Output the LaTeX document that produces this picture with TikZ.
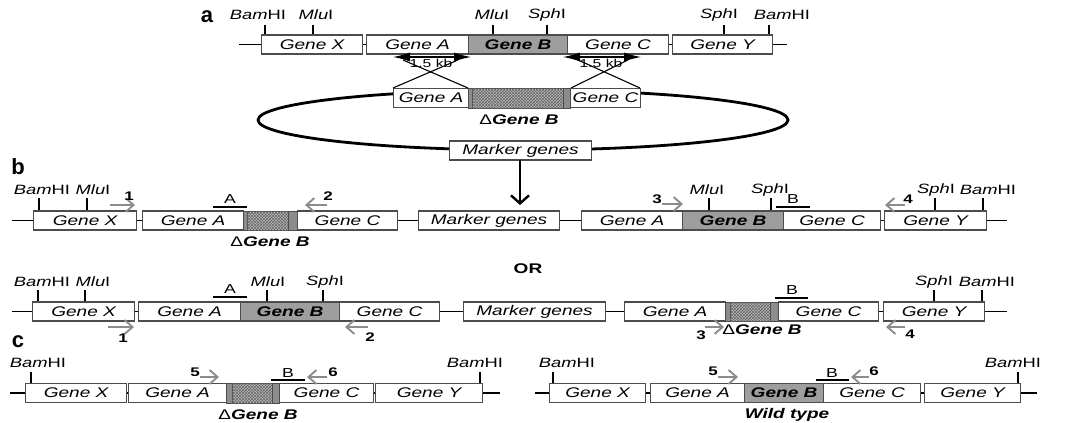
\documentclass[tikz,border=0pt]{standalone}
\usepackage{fontspec}
\setmainfont{Liberation Sans}[FakeStretch=1.36]
\newfontfamily\panelfont{Liberation Sans}
\usetikzlibrary{arrows.meta,patterns}
\tikzset{
  gbox/.style={draw=black!70, line width=1.1pt, fill=white, minimum height=19pt, inner sep=0pt, anchor=west, font=\fontsize{14}{16}\selectfont\itshape},
  gboxB/.style={gbox, fill=black!38, font=\fontsize{14}{16}\selectfont\bfseries\itshape},
  stripe/.style={draw=black!70, line width=1pt, fill=black!45},
  hatch/.style={draw=black!70, line width=0.8pt, fill=black!28, postaction={pattern=crosshatch, pattern color=black!60}},
  dna/.style={line width=1.6pt, black},
  rtick/.style={line width=1.8pt, black},
  site/.style={font=\fontsize{13.5}{15}\selectfont, inner sep=0pt},
  probe/.style={line width=2.4pt, black},
  plabel/.style={font=\fontsize{13}{15}\selectfont, inner sep=0pt},
  primer/.style={draw=black!45, line width=1.9pt, -{Straight Barb[length=8pt,width=14pt]}},
  pnum/.style={font=\fontsize{12.5}{14}\selectfont\bfseries, inner sep=0pt},
  panel/.style={font=\panelfont\fontsize{22}{24}\selectfont\bfseries, inner sep=0pt},
  dlabel/.style={font=\fontsize{14}{16}\selectfont\bfseries\itshape, inner sep=0pt},
  kb/.style={font=\fontsize{11.5}{13}\selectfont, inner sep=0pt},
}
\newcommand{\delreg}[6]{%
  \draw[stripe] (#1,#5) rectangle (#2,#6);
  \draw[hatch] (#2,#5) rectangle (#3,#6);
  \draw[stripe] (#3,#5) rectangle (#4,#6);}
\newcommand{\Bam}{\textit{Bam}HI}
\newcommand{\Mlu}{\textit{Mlu}I}
\newcommand{\Sph}{\textit{Sph}I}
\newcommand{\Dl}{{\mdseries\upshape Δ}}
\begin{document}
\begin{tikzpicture}[x=1pt,y=-1pt]
\useasboundingbox (0,0) rectangle (1066,423);

% ---------------- panel a ----------------
\node[panel] (La) at (207,17) {a};
\coordinate (a0) at (239,44.5); \coordinate (a1) at (787,44.5);
\draw[dna] (a0) -- (a1);
\foreach \x in {265,313,493,547,724,769} \draw[rtick] (\x,25) -- (\x,35);
\node[site] (as1) at (258,15) {\Bam};
\node[site] (as2) at (316,15) {\Mlu};
\node[site] (as3) at (492,15) {\Mlu};
\node[site] (as4) at (547,15) {\Sph};
\node[site] (as5) at (719,15) {\Sph};
\node[site] (as6) at (782,15) {\Bam};
\node[gbox, minimum width=101pt] (aX) at (261,44.5) {Gene X};
\node[gbox, minimum width=102pt] (aA) at (366,44.5) {Gene A};
\node[gboxB, minimum width=99pt] (aB) at (468,44.5) {Gene B};
\node[gbox, minimum width=101pt] (aC) at (567,44.5) {Gene C};
\node[gbox, minimum width=100pt] (aY) at (672,44.5) {Gene Y};

% plasmid
\draw[line width=2.8pt] (523,120) ellipse [x radius=265, y radius=30];
\node[gbox, minimum width=75pt] (pA) at (393,98) {Gene A};
\delreg{468}{472}{563}{570}{88}{108}
\node[gbox, minimum width=70pt] (pC) at (570,98) {Gene C};
\node[dlabel] (pdel) at (519,120) {\Dl Gene B};
\node[gbox, minimum width=142pt] (pM) at (449,150.5) {Marker genes};

% crossover
\draw[line width=1.1pt] (403,60) -- (468,88);
\draw[line width=1.1pt] (458,60) -- (393,88);
\draw[line width=1.1pt] (578,60) -- (640,88);
\draw[line width=1.1pt] (628,60) -- (571,88);
\draw[line width=1.1pt, {Latex[length=17pt,width=9pt]}-{Latex[length=17pt,width=9pt]}] (393,57) -- (471,57);
\draw[line width=1.1pt, {Latex[length=17pt,width=9pt]}-{Latex[length=17pt,width=9pt]}] (563,57) -- (641,57);
\node[kb] (kb1) at (431,63) {1.5 kb};
\node[kb] (kb2) at (601,63) {1.5 kb};

\coordinate (arrEnd) at (520,205);
\draw[line width=2.4pt, -{Straight Barb[length=8pt,width=18pt]}] (520,160) -- (arrEnd);

% ---------------- panel b (first) ----------------
\node[panel] (Lb) at (18,167) {b};
\coordinate (b0) at (12,220.5); \coordinate (b1) at (1007,220.5);
\draw[dna] (b0) -- (b1);
\foreach \x in {39,87,709,771,935,983} \draw[rtick] (\x,198) -- (\x,211);
\node[site] (bs1) at (42,190) {\Bam};
\node[site] (bs2) at (93,190) {\Mlu};
\node[site] (bs3) at (707,190) {\Mlu};
\node[site] (bs4) at (770,190) {\Sph};
\node[site] (bs5) at (936,190) {\Sph};
\node[site] (bs6) at (988,190) {\Bam};
\node[gbox, minimum width=103pt] (bX) at (33,220.5) {Gene X};
\node[gbox, minimum width=101pt] (bA) at (142,220.5) {Gene A};
\delreg{243}{247}{288}{297}{211}{230}
\node[gbox, minimum width=100pt] (bC) at (297,220.5) {Gene C};
\node[gbox, minimum width=141pt] (bM) at (418,220.5) {Marker genes};
\node[gbox, minimum width=101pt] (bA2) at (581,220.5) {Gene A};
\node[gboxB, minimum width=101pt] (bB2) at (682,220.5) {Gene B};
\node[gbox, minimum width=97pt] (bC2) at (783,220.5) {Gene C};
\node[gbox, minimum width=102pt] (bY) at (884,220.5) {Gene Y};
\node[dlabel] (bdel) at (270,242) {\Dl Gene B};
\draw[probe] (213,207) -- (247,207); \node[plabel] (bpA) at (230,199) {A};
\draw[probe] (776,207) -- (810,207); \node[plabel] (bpB) at (793,199) {B};
\draw[primer] (110,205) -- (135,205); \node[pnum] (bn1) at (129,196) {1};
\draw[primer] (327,205) -- (305,205); \node[pnum] (bn2) at (328,196) {2};
\draw[primer] (662,204) -- (683,204); \node[pnum] (bn3) at (657,199) {3};
\draw[primer] (905,205) -- (885,205); \node[pnum] (bn4) at (908,199) {4};

\node[font=\fontsize{14}{16}\selectfont\bfseries, inner sep=0pt] (or) at (528,269) {OR};

% ---------------- panel b (second) ----------------
\coordinate (c0) at (12,311.5); \coordinate (c1) at (1007,311.5);
\draw[dna] (c0) -- (c1);
\foreach \x in {38,85,267,323,934,982} \draw[rtick] (\x,290) -- (\x,302);
\node[site] (cs1) at (42,282) {\Bam};
\node[site] (cs2) at (93,282) {\Mlu};
\node[site] (cs3) at (268,282) {\Mlu};
\node[site] (cs4) at (325,282) {\Sph};
\node[site] (cs5) at (934,282) {\Sph};
\node[site] (cs6) at (987,282) {\Bam};
\node[gbox, minimum width=102pt] (cX) at (32,311.5) {Gene X};
\node[gbox, minimum width=102pt] (cA) at (138,311.5) {Gene A};
\node[gboxB, minimum width=99pt] (cB) at (240,311.5) {Gene B};
\node[gbox, minimum width=100pt] (cC) at (339,311.5) {Gene C};
\node[gbox, minimum width=142pt] (cM) at (463,311.5) {Marker genes};
\node[gbox, minimum width=101pt] (cA2) at (624,311.5) {Gene A};
\delreg{725}{730}{770}{778}{302}{321}
\node[gbox, minimum width=100pt] (cC2) at (778,311.5) {Gene C};
\node[gbox, minimum width=101pt] (cY) at (883,311.5) {Gene Y};
\node[dlabel] (cdel) at (762,330) {\Dl Gene B};
\draw[probe] (213,297) -- (247,297); \node[plabel] (cpA) at (230,289) {A};
\draw[probe] (775,298) -- (808,298); \node[plabel] (cpB) at (792,290) {B};
\draw[primer] (108,327) -- (134,327); \node[pnum] (cn1) at (123,338) {1};
\draw[primer] (368,327) -- (345,327); \node[pnum] (cn2) at (370,337) {2};
\draw[primer] (705,327) -- (724,327); \node[pnum] (cn3) at (701,335) {3};
\draw[primer] (905,327) -- (886,327); \node[pnum] (cn4) at (910,334) {4};

% ---------------- panel c ----------------
\node[panel] (Lc) at (18,342) {c};
\coordinate (d0) at (10,393); \coordinate (d1) at (500,393);
\draw[dna] (d0) -- (d1);
\foreach \x in {31,480} \draw[rtick] (\x,372) -- (\x,383);
\node[site] (ds1) at (38,363) {\Bam};
\node[site] (ds2) at (475,363) {\Bam};
\node[gbox, minimum width=101pt] (dX) at (25,393) {Gene X};
\node[gbox, minimum width=98pt] (dA) at (128,393) {Gene A};
\delreg{226}{232}{272}{279}{383}{403}
\node[gbox, minimum width=94pt] (dC) at (279,393) {Gene C};
\node[gbox, minimum width=107pt] (dY) at (375,393) {Gene Y};
\node[dlabel] (ddel) at (258,415) {\Dl Gene B};
\draw[probe] (271,380) -- (305,380); \node[plabel] (dpB) at (288,373) {B};
\draw[primer] (200,377) -- (219,377); \node[pnum] (dn5) at (195,372) {5};
\draw[primer] (327,377) -- (307,377); \node[pnum] (dn6) at (333,372) {6};

\coordinate (e0) at (535,393); \coordinate (e1) at (1037,393);
\draw[dna] (e0) -- (e1);
\foreach \x in {553,1018} \draw[rtick] (\x,372) -- (\x,383);
\node[site] (es1) at (567,363) {\Bam};
\node[site] (es2) at (1013,363) {\Bam};
\node[gbox, minimum width=96pt] (eX) at (549,393) {Gene X};
\node[gbox, minimum width=94pt] (eA) at (650,393) {Gene A};
\node[gboxB, minimum width=79pt] (eB) at (744,393) {Gene B};
\node[gbox, minimum width=97pt] (eC) at (823,393) {Gene C};
\node[gbox, minimum width=96pt] (eY) at (924,393) {Gene Y};
\node[dlabel] (ewt) at (787,415) {Wild type};
\draw[probe] (816,380) -- (849,380); \node[plabel] (epB) at (832,373) {B};
\draw[primer] (718,377) -- (738,377); \node[pnum] (en5) at (713,371) {5};
\draw[primer] (869,377) -- (851,377); \node[pnum] (en6) at (874,371) {6};
\end{tikzpicture}
\end{document}
